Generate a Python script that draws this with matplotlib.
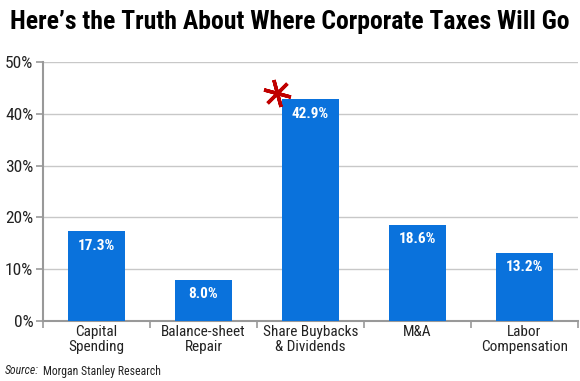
import matplotlib.pyplot as plt
from matplotlib import font_manager

categories = ['Capital\nSpending', 'Balance-sheet\nRepair', 'Share Buybacks\n& Dividends', 'M&A', 'Labor\nCompensation']
shares = [17.3, 8.0, 42.9, 18.6, 13.2]
yticks = [0, 10, 20, 30, 40, 50]

names = {f.name for f in font_manager.fontManager.ttflist}
narrow = 'DejaVu Sans'
for cand in ['Liberation Sans Narrow', 'Roboto Condensed', 'Open Sans Condensed', 'Roboto']:
    if cand in names:
        narrow = cand
        break

fig = plt.figure(figsize=(5.8, 3.81), dpi=100)
ax = fig.add_axes([43 / 580, 1 - 321 / 381, 535 / 580, 259 / 381])

x = list(range(len(categories)))
ax.bar(x, shares, width=0.53, color='#0a72dc', zorder=3)
for xi, v in zip(x, shares):
    ax.text(xi, v - 1.5, '%.1f%%' % v, ha='center', va='top', color='white',
            fontsize=11, fontweight='bold', family=narrow, zorder=4)

ax.set_xlim(-0.5, len(categories) - 0.5)
ax.set_ylim(0, 50)
ax.set_yticks(yticks)
ax.set_yticklabels(['%d%%' % t for t in yticks], family=narrow, fontsize=12.5, color='#222222')
ax.yaxis.grid(True, color='#c8c8c8', linewidth=1, zorder=0)

ax.set_xticks([i - 0.5 for i in range(len(categories) + 1)])
ax.set_xticklabels([])
ax.set_xticks(x, minor=True)
ax.set_xticklabels(categories, minor=True, family=narrow, fontsize=11, color='#222222', linespacing=1.05)
ax.tick_params(axis='x', which='minor', length=0, pad=3)
ax.tick_params(axis='x', which='major', length=5, color='#999999', width=1.2)
ax.tick_params(axis='y', length=5, color='#999999', width=1.2, pad=2)

for side in ['top', 'right']:
    ax.spines[side].set_visible(False)
for side in ['left', 'bottom']:
    ax.spines[side].set_color('#999999')
    ax.spines[side].set_linewidth(1.5)

# red asterisk next to the tallest bar
ax.plot([1.69], [44.0], marker=(6, 2, 15), markersize=20, color='#c00000',
        markeredgewidth=2.5, zorder=5, clip_on=False)

fig.text(10 / 580, 1 - 22 / 381, "Here\u2019s the Truth About Where Corporate Taxes Will Go",
         fontsize=18.5, fontweight='bold', family=narrow, va='center', ha='left', color='black')
src = fig.text(5 / 580, 1 - 371 / 381, 'Source:', fontsize=8.5, style='italic', family=narrow,
               va='center', ha='left', color='#222222')
ax.annotate('Morgan Stanley Research', xy=(1, 0.5), xycoords=src, xytext=(3, 0),
            textcoords='offset points', fontsize=8.5, family=narrow, va='center', ha='left',
            color='#222222', annotation_clip=False)

fig.savefig('out.png', dpi=100)
